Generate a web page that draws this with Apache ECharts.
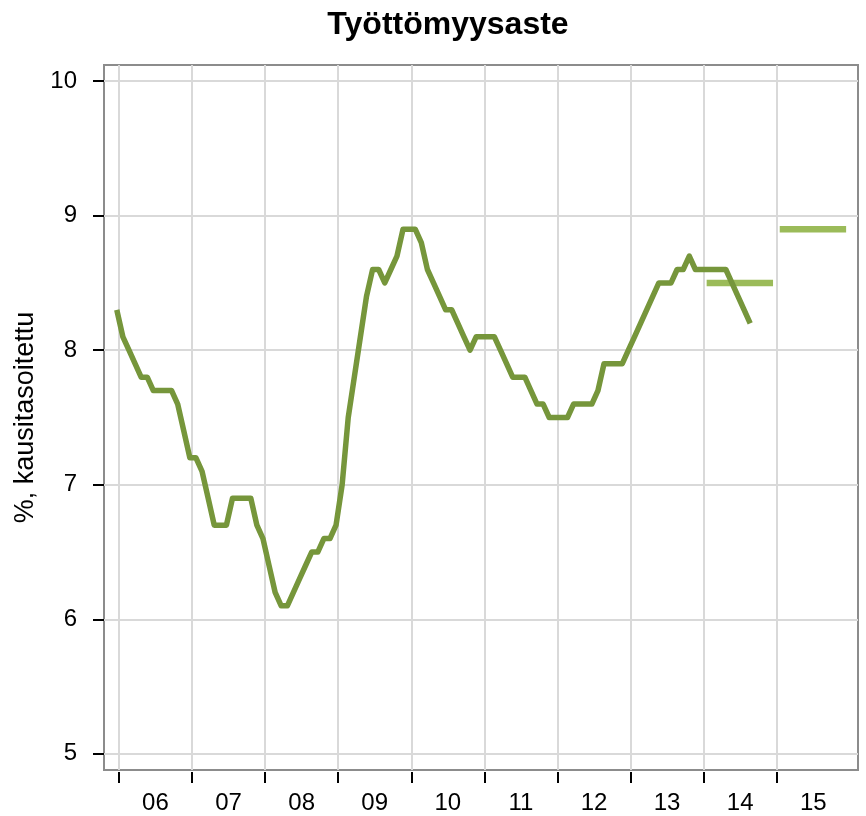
<!DOCTYPE html>
<html>
<head>
<meta charset="utf-8">
<title>Työttömyysaste</title>
<script src="https://cdn.jsdelivr.net/npm/echarts@6/dist/echarts.min.js"></script>
<style>
  html, body { margin: 0; padding: 0; background: #fff; }
  #chart { width: 866px; height: 816px; }
</style>
</head>
<body>
<div id="chart"></div>
<script>
// kuukausittainen työttömyysaste tammikuu 2006 -> syyskuu 2014
const rate = [
  8.3, 8.1, 8.0, 7.9, 7.8, 7.8, 7.7, 7.7, 7.7, 7.7, 7.6, 7.4,
  7.2, 7.2, 7.1, 6.9, 6.7, 6.7, 6.7, 6.9, 6.9, 6.9, 6.9, 6.7,
  6.6, 6.4, 6.2, 6.1, 6.1, 6.2, 6.3, 6.4, 6.5, 6.5, 6.6, 6.6,
  6.7, 7.0, 7.5, 7.8, 8.1, 8.4, 8.6, 8.6, 8.5, 8.6, 8.7, 8.9,
  8.9, 8.9, 8.8, 8.6, 8.5, 8.4, 8.3, 8.3, 8.2, 8.1, 8.0, 8.1,
  8.1, 8.1, 8.1, 8.0, 7.9, 7.8, 7.8, 7.8, 7.7, 7.6, 7.6, 7.5,
  7.5, 7.5, 7.5, 7.6, 7.6, 7.6, 7.6, 7.7, 7.9, 7.9, 7.9, 7.9,
  8.0, 8.1, 8.2, 8.3, 8.4, 8.5, 8.5, 8.5, 8.6, 8.6, 8.7, 8.6,
  8.6, 8.6, 8.6, 8.6, 8.6, 8.5, 8.4, 8.3, 8.2
];

// ennusteet (vuosikeskiarvo)
const forecastYears = [2014, 2015];
const forecastValues = [8.5, 8.9];

const yearLabels = ["06", "07", "08", "09", "10", "11", "12", "13", "14", "15"];
const yTicks = [5, 6, 7, 8, 9, 10];

const firstYear = 2006;
const tickShift = 0.35; // vuoden raja suhteessa kuukausipisteisiin

const yearTicks = yearLabels.map((_, i) => i * 12 + tickShift);
const yearMids = yearLabels.map((_, i) => i * 12 + 6 + tickShift);

const fontFamily = "'Liberation Sans', Arial, sans-serif";

const myChart = echarts.init(document.getElementById("chart"), null, {
  width: 866,
  height: 816,
});

const forecastSeries = forecastYears.map((year, i) => {
  const start = (year - firstYear) * 12 + tickShift + 0.5;
  return {
    name: "Ennuste " + year,
    type: "line",
    symbol: "none",
    z: 2,
    lineStyle: { color: "#9bbb59", width: 6.5, cap: "butt" },
    data: [
      [start, forecastValues[i]],
      [start + 10.9, forecastValues[i]],
    ],
  };
});

const option = {
  animation: false,
  backgroundColor: "#fff",
  title: {
    text: "Työttömyysaste",
    left: 443,
    top: 4,
    textAlign: "center",
    textStyle: {
      fontFamily: fontFamily,
      fontSize: 32,
      fontWeight: "bold",
      color: "#000",
    },
  },
  grid: {
    left: 104,
    right: 8,
    top: 65,
    bottom: 46,
    show: true,
    borderColor: "#8c8c8c",
    borderWidth: 2,
    backgroundColor: "transparent",
  },
  xAxis: {
    type: "value",
    min: -2.1,
    max: 121.7,
    offset: 2,
    axisLine: { show: false, onZero: false },
    axisTick: {
      show: true,
      customValues: yearTicks,
      length: 11,
      lineStyle: { color: "#000", width: 2 },
    },
    axisLabel: {
      customValues: yearMids,
      margin: 19,
      fontSize: 24,
      fontFamily: fontFamily,
      color: "#000",
      formatter: (v) => yearLabels[Math.round((v - 6 - tickShift) / 12)],
    },
    splitLine: {
      show: true,
      lineStyle: { color: "#d9d9d9", width: 2 },
    },
  },
  yAxis: {
    type: "value",
    min: 4.88,
    max: 10.12,
    name: "%, kausitasoitettu",
    nameLocation: "middle",
    nameGap: 58,
    nameTextStyle: {
      fontFamily: fontFamily,
      fontSize: 27,
      color: "#000",
    },
    axisLine: { show: false, onZero: false },
    axisTick: {
      show: true,
      customValues: yTicks,
      length: 11,
      lineStyle: { color: "#000", width: 2 },
    },
    axisLabel: {
      customValues: yTicks,
      margin: 27,
      fontSize: 24,
      fontFamily: fontFamily,
      color: "#000",
    },
    splitLine: {
      show: true,
      lineStyle: { color: "#d9d9d9", width: 2 },
    },
  },
  series: [
    ...forecastSeries,
    {
      name: "Työttömyysaste",
      type: "line",
      symbol: "none",
      z: 3,
      lineStyle: { color: "#76963b", width: 5.5, join: "round", cap: "butt" },
      data: rate.map((v, i) => [i, v]),
    },
  ],
};

myChart.setOption(option);
</script>
</body>
</html>
